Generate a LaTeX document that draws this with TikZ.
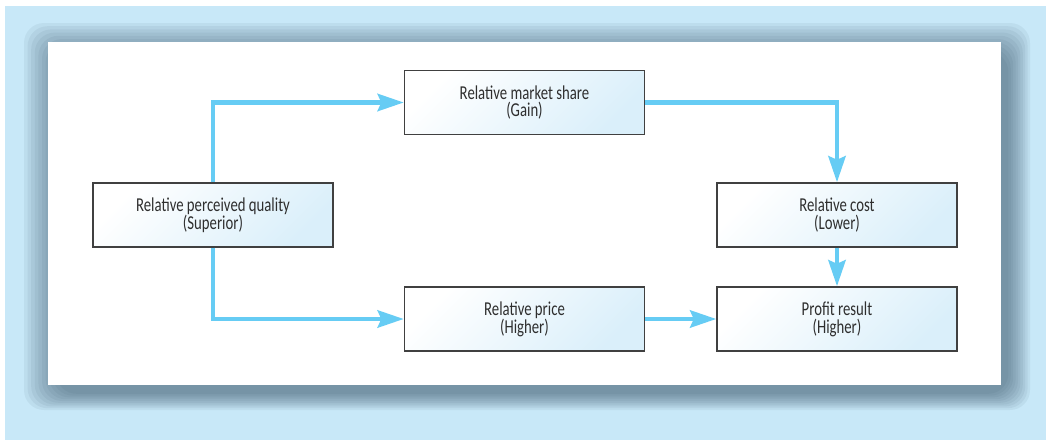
\documentclass[tikz,border=0pt]{standalone}
\usepackage{fontspec}
\setmainfont{Carlito}[FakeStretch=0.75]
\usepackage{tikz}
\usetikzlibrary{arrows.meta}
\definecolor{bgblue}{HTML}{C8E8F8}
\definecolor{flowblue}{HTML}{66CCF4}
\definecolor{boxblue}{HTML}{DAEFFA}
\definecolor{boxline}{HTML}{404040}
\definecolor{txtgray}{HTML}{2E2E2E}
\definecolor{shadowgray}{RGB}{40,70,90}

\begin{document}
\begin{tikzpicture}[x=0.02cm, y=-0.02cm,
    box/.style={draw=boxline, line width=0.8pt, top color=white, bottom color=boxblue,
      shading angle=45, minimum width=4.8cm, minimum height=1.28cm, align=center,
      text=txtgray, font=\fontsize{11.2}{10.2}\selectfont, inner sep=0pt},
    flow/.style={flowblue, line width=2.8pt,
      -{Stealth[length=0.52cm, width=0.34cm, inset=0.07cm]}}]
  \useasboundingbox (0,0) rectangle (1046,440);
  \fill[white] (0,0) rectangle (1046,440);
  \fill[bgblue] (5,6) rectangle (1046,440);
  % stepped shadow under the panel
  \foreach \i in {0,...,9}
    \fill[shadowgray, opacity=0.065, rounded corners=0.4cm]
      ({24+3.6*\i},{23+3.2*\i}) rectangle ({1030-2.4*\i},{410-1.8*\i});
  \fill[white] (48,42) rectangle (1001,385);

  \node[box] (quality) at (213,215) {Relative perceived quality\\(Superior)};
  \node[box] (share) at (524.5,102.5) {Relative market share\\(Gain)};
  \node[box] (price) at (524.5,319) {Relative price\\(Higher)};
  \node[box] (cost) at (837,215) {Relative cost\\(Lower)};
  \node[box] (profit) at (837,319) {Profit result\\(Higher)};

  \draw[flow] (quality.north) |- (share.west);
  \draw[flow] (quality.south) |- (price.west);
  \draw[flow] (share.east) -| (cost.north);
  \draw[flow] (price.east) -- (profit.west);
  \draw[flow] (cost.south) -- (profit.north);
\end{tikzpicture}
\end{document}
